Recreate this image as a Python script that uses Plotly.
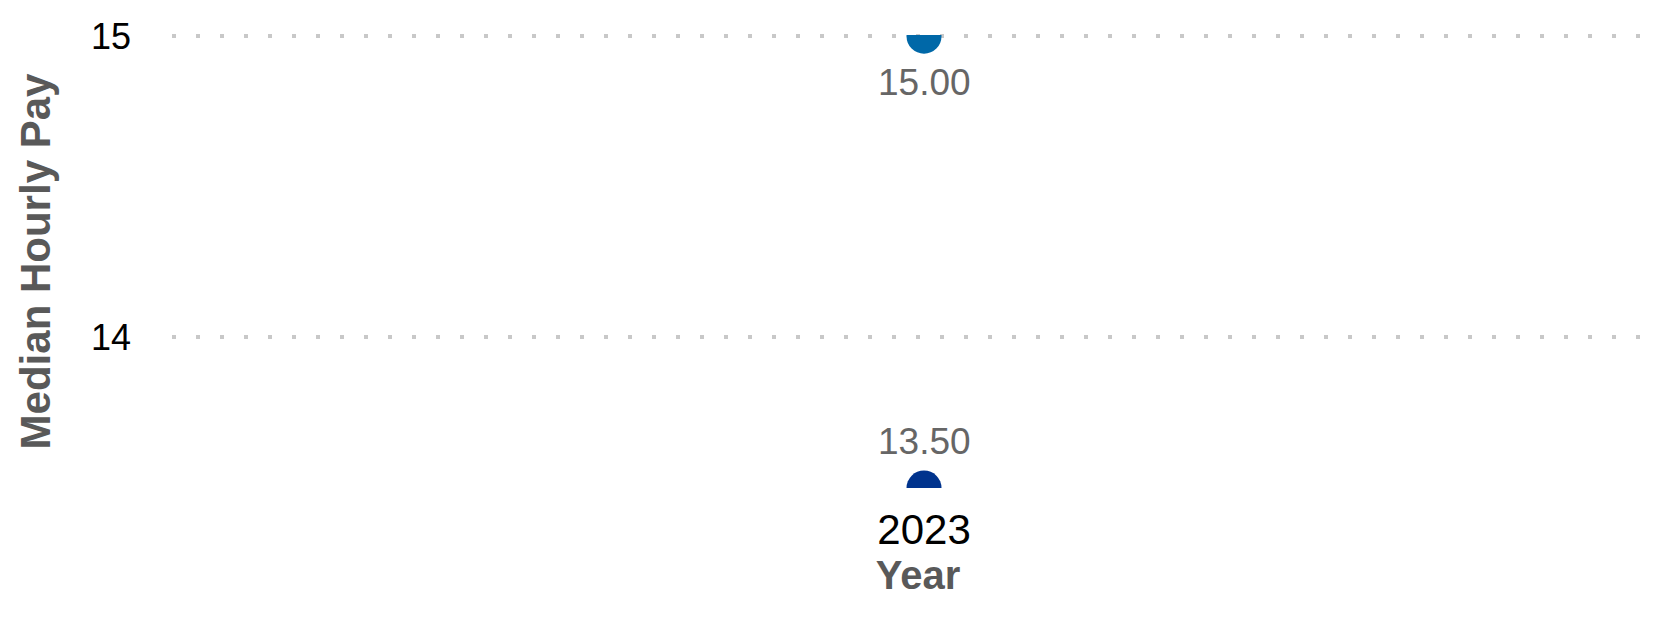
import plotly.graph_objects as go

years = ["2023"]
pay_high = [15.00]
pay_low = [13.50]
y_ticks = [14, 15]

FONT = "Liberation Sans, Arial, sans-serif"

fig = go.Figure()
fig.add_trace(go.Scatter(
    x=years, y=pay_high, mode="markers",
    marker=dict(size=35, color="#0068A8"),
    cliponaxis=True, showlegend=False,
))
fig.add_trace(go.Scatter(
    x=years, y=pay_low, mode="markers",
    marker=dict(size=35, color="#00338D"),
    cliponaxis=True, showlegend=False,
))

for i, v in enumerate(pay_high):
    fig.add_annotation(x=i, y=v, xref="x", yref="y", text=f"{v:.2f}", showarrow=False,
                       yanchor="top", yshift=-24,
                       font=dict(size=37, color="#666666", family=FONT))
for i, v in enumerate(pay_low):
    fig.add_annotation(x=i, y=v, xref="x", yref="y", text=f"{v:.2f}", showarrow=False,
                       yanchor="bottom", yshift=24,
                       font=dict(size=37, color="#666666", family=FONT))

fig.update_layout(
    width=1664, height=617,
    margin=dict(l=164, r=8, t=27, b=137, autoexpand=False),
    paper_bgcolor="white", plot_bgcolor="white",
    font=dict(family=FONT),
    xaxis=dict(
        type="category", range=[-0.5, 0.492], automargin=False,
        showgrid=False, zeroline=False, showline=False,
        tickfont=dict(size=42, color="black", family=FONT),
        ticklabelstandoff=13,
        title=dict(text="<b>Year</b>", font=dict(size=40, color="#595959", family=FONT), standoff=4),
    ),
    yaxis=dict(
        range=[13.5, 15.004], tickvals=y_ticks, ticktext=[str(v) for v in y_ticks],
        automargin=False,
        showgrid=True, gridcolor="#c8c8c8", gridwidth=4, griddash="4px,20px",
        zeroline=False, showline=False,
        tickfont=dict(size=36, color="black", family=FONT),
        ticklabelstandoff=40,
        title=dict(text="<b>Median Hourly Pay</b>", font=dict(size=42, color="#595959", family=FONT), standoff=27),
    ),
)

fig.write_html("out.html")
